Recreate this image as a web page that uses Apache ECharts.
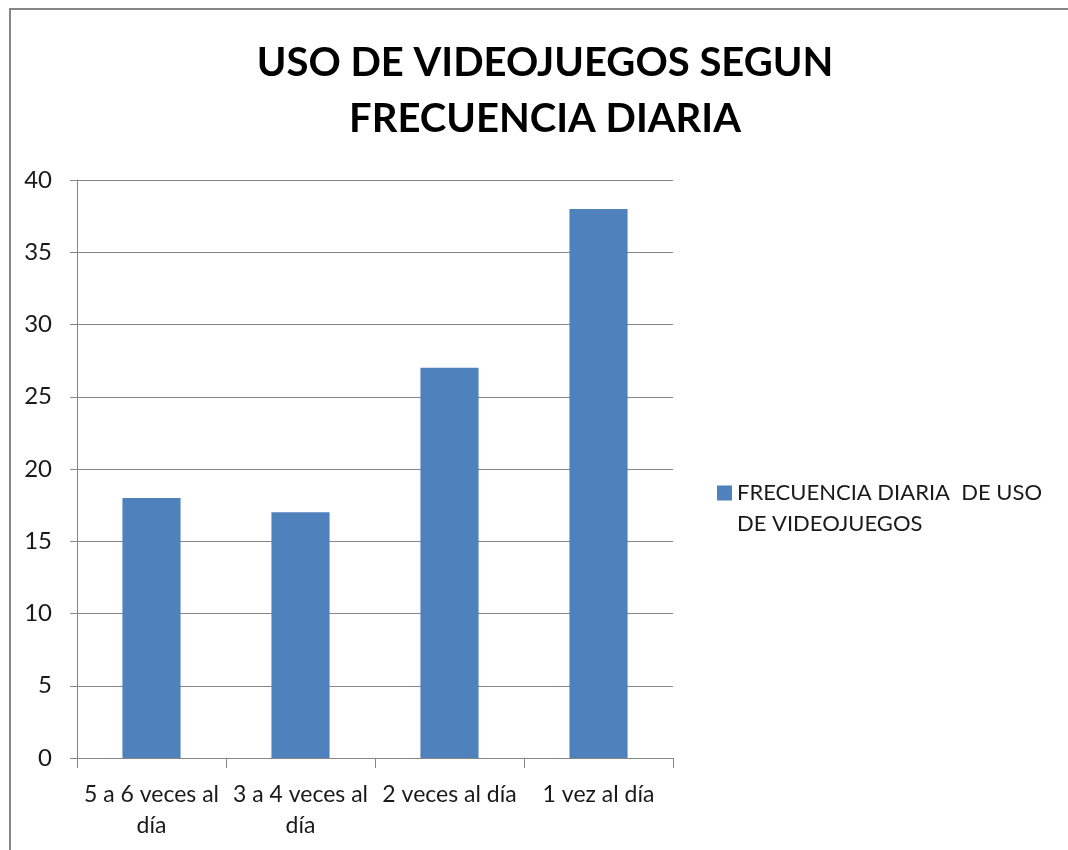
<!DOCTYPE html>
<html lang="es">
<head>
    <meta charset="UTF-8">
    <title>Uso de videojuegos</title>
    <style>
        body { margin: 0; background: #fff; }
        #frame { position: absolute; left: 9px; top: 8px; width: 1100px; height: 900px;
                 border-left: 2px solid #868686; border-top: 2px solid #868686; }
        #chart { position: absolute; left: 0; top: 0; width: 1068px; height: 850px; }
    </style>
</head>
<body>
<div id="frame"></div>
<div id="chart"></div>

<script src="https://cdn.jsdelivr.net/npm/echarts@6/dist/echarts.min.js"></script>
<script type="text/javascript">

    var categorias = ['5 a 6 veces al\ndía', '3 a 4 veces al\ndía', '2 veces al día', '1 vez al día'];
    var valores = [18, 17, 27, 38];
    var ticksY = [0, 5, 10, 15, 20, 25, 30, 35, 40];
    var serieNombre = 'FRECUENCIA DIARIA  DE USO\nDE VIDEOJUEGOS';

    var myChart = echarts.init(document.getElementById('chart'));

    // cuadrado arriba + punto invisible abajo, para alinear el icono con la primera linea
    var iconoLeyenda = 'path://M0,0h15v15h-15zM0,44.9h0.1v0.1h-0.1z';

    var option = {
        animation: false,
        title: {
            text: 'USO DE VIDEOJUEGOS SEGUN\nFRECUENCIA DIARIA',
            left: 540,
            top: 30,
            textAlign: 'center',
            textStyle: {
                fontFamily: 'Lato',
                fontWeight: 'bold',
                fontSize: 40,
                lineHeight: 56,
                color: '#000'
            }
        },
        legend: {
            orient: 'vertical',
            left: 712,
            top: 472,
            itemWidth: 15,
            itemHeight: 45,
            itemGap: 6,
            icon: iconoLeyenda,
            textStyle: {
                fontFamily: 'Lato',
                fontSize: 22,
                lineHeight: 31,
                color: '#1a1a1a'
            },
            data: [serieNombre]
        },
        grid: {
            left: 77,
            right: 395,
            top: 180,
            bottom: 92,
            containLabel: false
        },
        xAxis: {
            type: 'category',
            data: categorias,
            axisLine: { lineStyle: { color: '#868686', width: 1 } },
            axisTick: { show: true, length: 10, lineStyle: { color: '#868686' } },
            axisLabel: {
                fontFamily: 'Lato',
                fontSize: 23,
                lineHeight: 31,
                color: '#1a1a1a',
                margin: 21,
                interval: 0
            }
        },
        yAxis: {
            type: 'value',
            min: ticksY[0],
            max: ticksY[ticksY.length - 1],
            interval: 5,
            axisLine: { show: true, lineStyle: { color: '#868686', width: 1 } },
            axisTick: { show: true, length: 7, lineStyle: { color: '#868686' } },
            splitLine: { lineStyle: { color: '#868686', width: 1 } },
            axisLabel: {
                fontFamily: 'Lato',
                fontSize: 24,
                color: '#1a1a1a',
                margin: 25
            }
        },
        series: [
            {
                name: serieNombre,
                type: 'bar',
                barWidth: '39%',
                itemStyle: { color: '#4F81BD' },
                data: valores
            }
        ]
    };

    myChart.setOption(option);
</script>

</body>
</html>
